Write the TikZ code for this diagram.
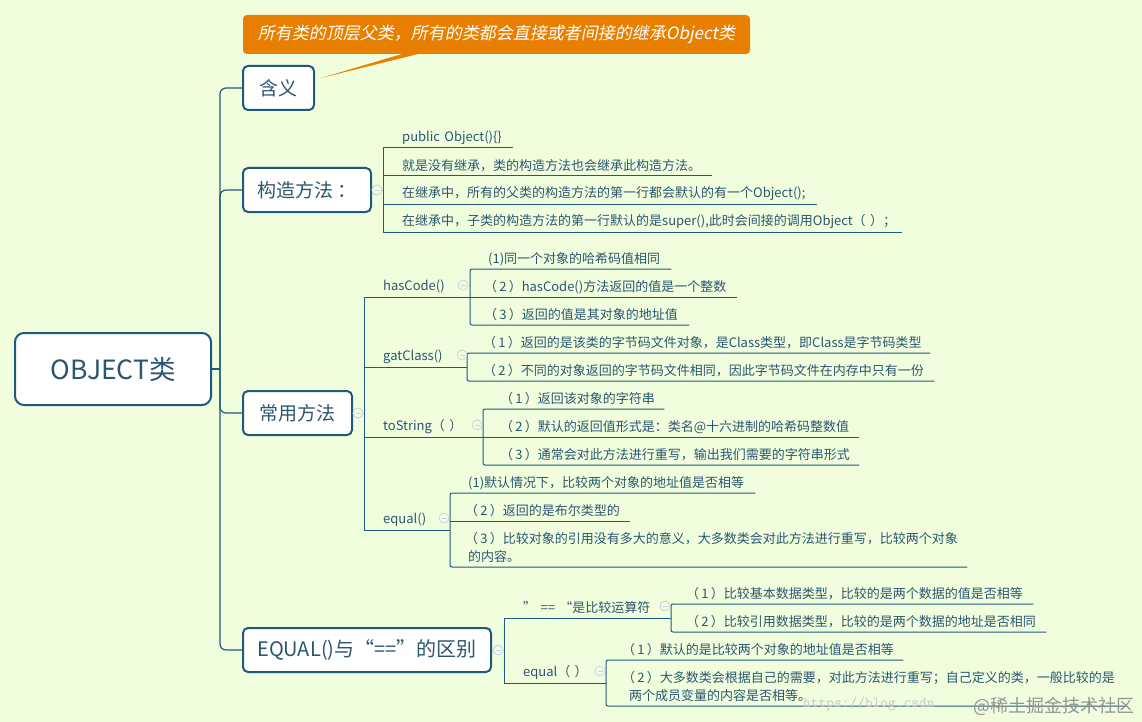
\documentclass[tikz,border=0pt]{standalone}
\usepackage{fontspec}
\setmainfont{Noto Sans CJK SC}
\newfontfamily\callfont[FakeSlant=0.2]{Noto Sans CJK SC}
\usetikzlibrary{positioning}

\definecolor{paper}{HTML}{F1FEDD}
\definecolor{linecol}{HTML}{1F5A7E}
\definecolor{inkcol}{HTML}{2B5670}
\definecolor{callcol}{HTML}{E97F00}
\definecolor{foldcol}{HTML}{C9D3EA}

\tikzset{
  topic/.style={draw=linecol, line width=2pt, fill=white, rounded corners=5, text=inkcol,
    minimum height=44, inner sep=0, font=\fontsize{19}{23}\selectfont},
  branch/.style={draw=linecol, line width=1pt},
  fold/.style={circle, draw=foldcol, fill=paper, line width=0.8pt, minimum size=10, inner sep=0,
    path picture={\draw[foldcol] ([xshift=-2.5pt]path picture bounding box.center) -- ([xshift=2.5pt]path picture bounding box.center);}},
  leaf/.style 2 args={anchor=south west, inner sep=0, minimum height=20, text width=#1pt, align=left,
    text=inkcol, font=\fontsize{13}{18}\selectfont, execute at begin node={\hspace*{#2pt}}},
}

\begin{document}
\begin{tikzpicture}[x=1pt,y=-1pt]

\useasboundingbox (0,0) rectangle (1142,722);
\fill[paper] (0,0) rectangle (1142,722);

% the topics
\node[topic, rounded corners=9, minimum width=196, minimum height=72, font=\fontsize{26.5}{30}\selectfont] (root) at (113,369) {OBJECT类};
\node[topic, minimum width=71] (mean) at (278.5,88) {含义};
\node[topic, minimum width=128] (construct) at (307,190) {构造方法\,：};
\node[topic, minimum width=109] (common) at (297.5,413) {常用方法};
\node[topic, minimum width=248, font=\fontsize{20}{24}\selectfont] (diff) at (367,650) {EQUAL()与“==”的区别};

% the note over the first topic
\coordinate (tailA) at (402,54);
\coordinate (tailB) at (418,54);
\node[fill=callcol, rounded corners=4, minimum width=507, minimum height=39, inner sep=0, text=white, font=\callfont\fontsize{17}{22}\selectfont] (call) at (496.5,34.5) {所有类的顶层父类，所有的类都会直接或者间接的继承Object类};
\fill[callcol] (tailA) -- (tailB) -- ([shift={(6,-10)}]mean.east) -- cycle;

% the spine
\coordinate (spine) at (220,369);
\draw[branch, line width=1.2pt] (root.east) -- (spine);
\draw[branch, line width=1.2pt, rounded corners=6] (mean.west) -- (mean.west -| spine) -- (diff.west -| spine) -- (diff.west);
\draw[branch, line width=1.2pt, rounded corners=6] (spine) |- (construct.west);
\draw[branch, line width=1.2pt, rounded corners=6] (spine) |- (common.west);

% construct
\node[leaf={130}{19}] (c1) at (383,148) {public Object()\{\}};
\node[leaf={329}{19}] (c2) at (383,176) {就是没有继承，类的构造方法也会继承此构造方法。};
\node[leaf={434}{19}] (c3) at (383,204) {在继承中，所有的父类的构造方法的第一行都会默认的有一个Object();};
\node[leaf={519}{19}] (c4) at (383,232) {在继承中，子类的构造方法的第一行默认的是super(),此时会间接的调用Object（ ）；};
\draw[branch] (c1.south east) -- (c1.south west) -- (c4.south west) -- (c4.south east);
\draw[branch] (c2.south west) -- (c2.south east);
\draw[branch] (c3.south west) -- (c3.south east);
\node[fold] (foldC) at (377,190) {};
\draw[foldcol] (construct.east) -- (foldC) (foldC.east) -- (foldC.east -| c1.south west);
\node[fold] at (foldC) {};

% common, the four methods
\node[leaf={106}{19}] (hc) at (364,297) {hasCode()};
\node[leaf={103}{19}] (gc) at (364,367) {gatClass()};
\node[leaf={119}{19}] (ts) at (364,437) {toString（ ）};
\node[leaf={86}{19}] (eq) at (364,530) {equal()};
\draw[branch] (hc.south east) -- (hc.south west) -- (eq.south west) -- (eq.south east);
\draw[branch] (gc.south west) -- (gc.south east);
\draw[branch] (ts.south west) -- (ts.south east);
\node[fold] (foldM) at (358,413) {};
\draw[foldcol] (common.east) -- (foldM) (foldM.east) -- (foldM.east -| hc.south west);
\node[fold] at (foldM) {};

% hasCode
\node[leaf={201}{18}] (hc1) at (470,269) {(1)同一个对象的哈希码值相同};
\node[leaf={267}{14}] (hc2) at (470,297) {（\,2\,）hasCode()方法返回的值是一个整数};
\node[leaf={219}{14}] (hc3) at (470,325) {（\,3\,）返回的值是其对象的地址值};
\draw[branch, rounded corners=2] (hc1.south east) -- (hc1.south west) -- (hc3.south west) -- (hc3.south east);
\draw[branch] (hc2.south west) -- (hc2.south east);
\node[fold] (foldH) at (463,285) {};

% gatClass
\node[leaf={463}{16}] (gc1) at (467,353) {（\,1\,）返回的是该类的字节码文件对象，是Class类型，即Class是字节码类型};
\node[leaf={467}{16}] (gc2) at (467,381) {（\,2\,）不同的对象返回的字节码文件相同，因此字节码文件在内存中只有一份};
\draw[branch, rounded corners=2] (gc1.south east) -- (gc1.south west) -- (gc2.south west) -- (gc2.south east);
\node[fold] (foldG) at (462,355) {};

% toString
\node[leaf={181}{17}] (ts1) at (483,409) {（\,1\,）返回该对象的字符串};
\node[leaf={376}{17}] (ts2) at (483,437) {（\,2\,）默认的返回值形式是：类名@十六进制的哈希码整数值};
\node[leaf={376}{17}] (ts3) at (483,465) {（\,3\,）通常会对此方法进行重写，输出我们需要的字符串形式};
\draw[branch, rounded corners=2] (ts1.south east) -- (ts1.south west) -- (ts3.south west) -- (ts3.south east);
\draw[branch] (ts2.south west) -- (ts2.south east);
\node[fold] (foldT) at (477,425) {};

% equal
\node[leaf={305}{18}] (eq1) at (450,493) {(1)默认情况下，比较两个对象的地址值是否相等};
\node[leaf={180}{15}] (eq2) at (450,521) {（\,2\,）返回的是布尔类型的};
\node[leaf={517}{15}, minimum height=38] (eq3) at (450,567) {（\,3\,）比较对象的引用没有多大的意义，大多数类会对此方法进行重写，比较两个对象\\\hspace*{18pt}的内容。};
\draw[branch, rounded corners=2] (eq1.south east) -- (eq1.south west) -- (eq3.south west) -- (eq3.south east);
\draw[branch] (eq2.south west) -- (eq2.south east);
\node[fold] (foldE) at (444,518) {};

% diff
\node[leaf={167}{19}] (op) at (504,618) {” == “是比较运算符};
\node[leaf={102}{19}] (ef) at (504,683) {equal（ ）};
\draw[branch] (op.south east) -- (op.south west) -- (ef.south west) -- (ef.south east);
\node[fold] (foldD) at (498,650) {};
\draw[foldcol] (diff.east) -- (foldD) (foldD.east) -- (foldD.east -| op.south west);
\node[fold] at (foldD) {};

\node[leaf={362}{15}] (op1) at (671,604) {（\,1\,）比较基本数据类型，比较的是两个数据的值是否相等};
\node[leaf={375}{15}] (op2) at (671,632) {（\,2\,）比较引用数据类型，比较的是两个数据的地址是否相同};
\draw[branch, rounded corners=2] (op1.south east) -- (op1.south west) -- (op2.south west) -- (op2.south east);
\node[fold] (foldO) at (665,606) {};

\node[leaf={297}{16}] (ef1) at (606,660) {（\,1\,）默认的是比较两个对象的地址值是否相等};
\node[leaf={520}{16}, minimum height=38] (ef2) at (606,706) {（\,2\,）大多数类会根据自己的需要，对此方法进行重写；自己定义的类，一般比较的是\\\hspace*{23pt}两个成员变量的内容是否相等。};
\draw[branch, rounded corners=2] (ef1.south east) -- (ef1.south west) -- (ef2.south west) -- (ef2.south east);
\node[fold] (foldF) at (600,671) {};

% the marks in the corner
\node[anchor=west, inner sep=0, text=gray!45, font=\ttfamily\fontsize{15}{18}\selectfont] (url) at (803,704) {https://blog.csdn};
\node[anchor=east, inner sep=0, text=gray!85, font=\fontsize{18}{20}\selectfont] (mark) at (1135,706) {@稀土掘金技术社区};

\end{tikzpicture}
\end{document}
